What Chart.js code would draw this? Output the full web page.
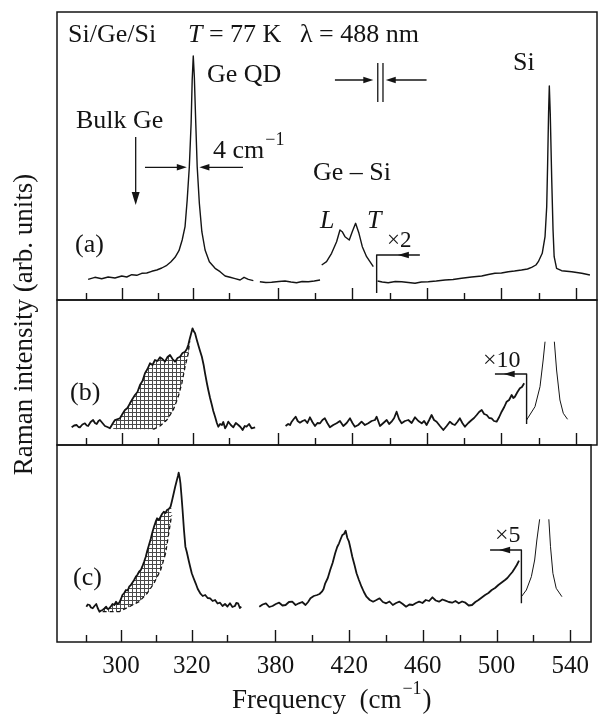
<!DOCTYPE html>
<html><head><meta charset="utf-8">
<script src="https://cdn.jsdelivr.net/npm/chart.js@4.4.0/dist/chart.umd.min.js"></script>
<style>
html,body{margin:0;padding:0;background:#fff;}
#wrap{position:relative;width:598px;height:714px;overflow:hidden;}
canvas{position:absolute;left:0;top:0;}
</style></head><body>
<div id="wrap">
<canvas id="ca" width="598" height="714"></canvas>
<canvas id="cb" width="598" height="714"></canvas>
<canvas id="cc" width="598" height="714"></canvas>
</div>
<script>
// ---------------- data (frequency in cm^-1, intensity in arb. units) ----------------
const TICK_VALUES = [290,300,310,320,330,380,400,420,440,460,480,500,520,540];
const TICK_LABELS = [300,320,380,420,460,500,540];
const X_LEFT_RANGE = [281.9, 338.1];   // left part of the broken frequency axis
const X_RIGHT_RANGE = [369.3, 551.3];  // right part of the broken frequency axis

// Panel (a)
const A_GE_QD = [[290.6,20.7],[292.5,22.7],[294.4,21.3],[296.2,23],[298.1,22],[300.0,24],[301.4,23],[302.8,25.3],[304.2,24.7],[305.6,26.7],[307.0,27],[308.4,28.7],[309.8,30],[311.2,32],[312.6,34.7],[313.7,38],[314.9,42.7],[316.0,49.3],[316.9,60],[317.7,73.3],[318.3,100],[318.9,133.3],[319.4,176.7],[319.7,220],[320.0,244],[320.3,223.3],[320.7,176.7],[321.1,133.3],[321.7,96.7],[322.4,68.3],[323.3,50],[324.5,38.3],[326.1,31.7],[327.5,28.3],[328.9,24],[330.3,22.7],[331.7,21.3],[333.1,20],[334.2,22.7],[335.4,20.7],[336.8,19.3]];
const A_BASE = [[370.3,18.3],[373.5,17.5],[376.6,17.7],[380.5,18.5],[383.8,19],[387,18],[390,17.3],[393,18.5],[396.3,18.3],[399.5,19],[402.6,20]];
const A_GESI = [[403.5,35],[406.1,38.3],[408.8,46.7],[411.5,58.3],[413.3,70],[414.5,68.3],[416.0,63.3],[418.3,60],[419.9,68.3],[421.7,76.7],[423.5,66.7],[425.3,53.3],[427.6,43.3],[431.2,33.3]];
const A_SI = [[433.5,19],[436,18],[439.2,17.3],[443,18.5],[446.4,18.3],[450,17.5],[453.6,16.7],[457,18],[460.7,18.3],[465,19],[469.7,20],[474,20.5],[478.6,21.7],[484,23],[489.4,24],[493,25.5],[496.5,26.7],[500,27],[503.7,28.3],[507,29],[510.8,30],[514,31],[516.2,32.7],[518.5,35],[519.8,38.3],[521.9,46.7],[523.4,63.3],[524.3,93.3],[524.8,136.7],[525.3,186.7],[525.7,214],[526.2,186.7],[527.0,120],[527.7,70],[528.3,43.3],[529.6,31.7],[532.3,29.3],[537.7,28.3],[543.1,26.7],[547.5,25]];
const A_MARK = [[433.0,7],[433.0,45],[456.2,45]];

// Panel (b)
const B_LEFT = [[286.0,17.7],[286.7,19.5],[287.4,20],[287.9,18],[288.3,17.7],[289.0,20.5],[289.7,21.7],[290.2,19.5],[290.6,19],[291.3,23],[292.0,25],[292.5,22],[293.0,21],[293.5,24],[293.9,25],[294.6,22],[295.3,19],[296.0,18],[296.7,16.7],[297.4,21],[298.1,25],[299.5,26.7],[300.2,31],[300.9,35],[301.6,37],[302.3,41.7],[303.0,46],[303.7,50],[304.4,53],[305.1,60],[305.8,64],[306.5,71.7],[307.2,76],[307.9,81.7],[308.6,80],[309.3,85],[310.0,84],[310.7,87.7],[311.4,86],[312.1,83.3],[312.8,88],[313.5,90],[314.2,86],[314.9,83.3],[315.6,87],[316.3,88.3],[317.0,92],[317.7,93.3],[318.2,96],[318.6,100],[319.0,106],[319.3,110],[319.8,116.7],[320.1,114],[320.5,111.7],[321.0,105],[321.4,100],[321.9,94],[322.4,88.3],[322.9,80],[323.3,71.7],[323.8,62],[324.2,55],[324.7,47],[325.2,40],[325.6,34],[326.1,28.3],[326.6,22],[327.0,18.3],[327.5,21],[328.0,20],[328.4,23],[328.9,16.7],[329.3,19],[329.8,23.3],[330.5,20],[331.2,17.7],[331.9,22],[332.6,20],[333.2,18],[333.8,15],[334.4,19],[334.9,18.3],[335.6,21],[336.3,16.7],[337.3,17.7]];
const B_SHADE_LOW = [[297.6,15.7],[308.8,15.7],[310.7,19],[312.6,25],[314.4,35],[315.8,48.3],[316.8,61.7],[317.7,78.3],[318.6,91.7],[319.0,104]];
const B_RIGHT = [[384.1,19],[385.5,21],[386.5,20],[387.4,23.3],[388.5,26],[389.5,28.3],[390.6,24],[391.8,22.3],[393.2,24],[394.5,25],[395.8,22],[397.2,27.7],[398.5,23],[399.9,19],[401.2,22],[402.6,21.7],[403.9,25],[405.2,26.7],[406.5,22],[407.9,17.7],[409.7,20],[411.5,21.7],[413.3,24],[415.1,19],[416.9,22],[418.7,26.7],[420.0,22],[421.3,18.3],[423.1,20],[424.9,23.3],[426.7,20],[428.5,21.7],[430.3,24],[432.1,25],[433.0,28.3],[434.8,19],[436.6,22],[438.4,25],[439.7,21],[441.0,23.3],[442.4,27],[443.7,33.3],[445.0,26],[446.4,21.7],[448.2,24],[450.0,25],[451.8,22],[453.6,27.7],[455.4,24],[457.2,21.7],[458.5,24],[459.8,20],[461.2,25],[462.5,30],[463.8,25],[465.2,23.3],[467.0,19],[468.8,15],[470.6,19],[472.3,23.3],[473.7,21],[475.0,20],[476.3,23],[477.7,26.7],[479.0,22],[480.4,18.3],[482.2,22],[484.0,25],[485.3,27],[486.7,30],[488.0,33],[489.4,35],[490.7,31],[492.1,30],[493.4,27],[494.7,26.7],[496.0,24],[497.4,23.3],[498.8,28],[500.1,33.3],[501.5,38],[502.8,43.3],[504.1,45],[505.5,50],[506.4,47],[507.2,48.3],[508.6,53],[509.9,56.7],[511.0,58],[512.2,61.7]];
const B_SI_UP = [[513.5,25],[518.0,38.3],[520.7,58.3],[522.4,85],[523.4,103.3]];
const B_SI_DOWN = [[528.4,103.3],[529.6,75],[531.4,45],[533.2,31.7],[535.5,25.7]];
const B_MARK = [[513.5,21],[513.5,71],[496.5,71]];

// Panel (c)
const C_LEFT = [[290.2,35.3],[290.6,37.5],[291.1,37],[291.5,34.5],[292.0,33.7],[292.5,36],[293.0,38],[293.4,34],[293.9,30.3],[294.4,31.5],[294.8,32],[295.3,33.5],[295.8,35.3],[296.2,33],[296.7,33.7],[297.2,36],[297.6,38],[298.1,37],[298.6,40.3],[299.0,38],[299.5,39.3],[300.0,43],[300.4,47],[300.9,49],[301.4,52],[301.9,51.5],[302.3,55.3],[302.8,57],[303.2,59.3],[303.7,62],[304.2,65.3],[304.6,67],[305.1,70.3],[305.6,72],[306.0,75.3],[306.5,80],[307.0,85.3],[307.4,91],[307.9,97],[308.4,103],[308.8,108.7],[309.3,115],[309.8,120.3],[310.2,123.7],[310.7,122],[311.2,125.3],[311.6,128],[312.1,130.3],[312.6,129],[313.0,132],[313.5,133],[314.0,135.3],[314.4,141],[314.9,148.7],[315.3,155],[315.8,162],[316.1,166],[316.3,169.3],[316.6,164],[316.8,158.7],[317.1,146],[317.4,132],[317.8,112],[318.2,95.3],[318.6,90],[319.1,82],[319.5,76],[320.0,68.7],[320.5,64],[321.1,58.7],[321.7,53],[322.4,48.7],[323.1,46],[323.8,47],[324.5,44],[325.2,43.7],[325.9,41],[326.6,42],[327.3,38.5],[328.0,39.3],[328.7,36],[329.4,38],[330.1,35.5],[330.8,38.7],[331.5,35],[332.2,36],[332.6,39],[333.1,38.7],[333.6,34],[334.0,35.3]];
const C_SHADE_LOW = [[294.8,30.3],[299.5,30.3],[302.3,35.3],[305.1,40.3],[307.4,48.7],[309.3,58.7],[311.2,72],[312.6,88.7],[313.5,108.7],[314.3,127]];
const C_RIGHT = [[371.2,35.3],[373.0,37.5],[374.8,38.7],[376.6,35],[378.4,36],[380.2,38],[382.0,39.3],[383.8,36.5],[385.5,37],[387.3,40],[389.1,40.3],[390.9,37],[392.7,38.7],[394.5,40],[396.3,37],[397.7,40],[399.0,43.7],[400.8,46],[402.6,47],[403.9,48],[405.2,50.3],[406.1,53],[407.0,58.7],[408.4,64],[409.7,72],[411.0,79],[412.4,88.7],[413.5,95],[414.5,98.7],[415.4,103],[416.3,107],[417.2,108],[418.1,111.3],[419.0,104],[419.9,100.3],[420.8,93],[421.7,85.3],[422.9,77],[424.0,68.7],[425.3,62],[426.7,55.3],[428.0,50],[429.4,45.3],[431.2,42],[433.0,40.3],[434.8,42],[436.5,43.7],[438.3,40],[440.1,38.7],[441.9,40.5],[443.7,37],[445.5,39],[447.3,40.3],[449.1,38],[450.9,35.3],[452.7,37.5],[454.5,37],[456.3,39],[458.0,40.3],[459.8,39],[461.6,42],[463.4,41],[465.2,44.7],[467.0,41.5],[468.8,40.3],[470.6,42.5],[472.3,41.3],[474.1,40],[475.9,39.3],[477.7,41],[479.5,38.7],[481.3,40.5],[483.1,39.3],[484.9,36.5],[486.7,37],[488.5,40],[490.2,42],[492.0,44.5],[493.8,47],[495.6,49],[497.4,52],[499.2,54],[501.0,57],[502.8,59.5],[504.6,62],[505.9,64],[507.2,67],[508.6,70],[509.9,73.7],[511.0,77],[512.2,81.3]];
const C_SI_UP = [[513.5,45.3],[516.2,52],[518.9,65.3],[520.7,82],[521.9,102],[523.4,122.7]];
const C_SI_DOWN = [[528.4,122.7],[529.3,95.3],[530.6,68.7],[532.4,53.7],[535.5,45.3]];
const C_MARK = [[513.5,38.7],[513.5,92],[496.5,92]];

// ---------------- broken linear scale ----------------
class BrokenLinearScale extends Chart.LinearScale {
  _split() { return 201 / 540; }
  getPixelForValue(value) {
    if (value === null || value === undefined || isNaN(value)) return NaN;
    const s = this._split();
    const [a0, a1] = X_LEFT_RANGE, [b0, b1] = X_RIGHT_RANGE;
    let dec;
    if (value <= a1) dec = (value - a0) / (a1 - a0) * s;
    else if (value >= b0) dec = s + (value - b0) / (b1 - b0) * (1 - s);
    else dec = s;
    return this.left + dec * this.width;
  }
  getValueForPixel(pixel) {
    const s = this._split();
    const dec = (pixel - this.left) / this.width;
    const [a0, a1] = X_LEFT_RANGE, [b0, b1] = X_RIGHT_RANGE;
    if (dec <= s) return a0 + dec / s * (a1 - a0);
    return b0 + (dec - s) / (1 - s) * (b1 - b0);
  }
}
BrokenLinearScale.id = 'brokenLinear';
BrokenLinearScale.defaults = Chart.LinearScale.defaults;
Chart.register(BrokenLinearScale);

// ---------------- styling helpers ----------------
const FONT = 'Liberation Serif';
const INK = '#141414';
Chart.defaults.font.family = FONT;
Chart.defaults.color = INK;

const TILE = (() => {
  const c = document.createElement('canvas'); c.width = 4; c.height = 4;
  const g = c.getContext('2d');
  g.fillStyle = '#4a4a4a';
  g.fillRect(0, 0, 4, 1); g.fillRect(0, 0, 1, 4);
  return c;
})();

function series(data, width, extra) {
  return Object.assign({
    data: data.map(([x, y]) => ({x, y})),
    borderColor: INK, borderWidth: width, pointRadius: 0, tension: 0, fill: false,
    borderJoinStyle: 'round', borderCapStyle: 'butt'
  }, extra || {});
}
function shade(data, hideFirst) {
  return series(data, 1.3, {
    borderDash: [4, 3],
    fill: {target: 0},
    backgroundColor: c => c.chart.ctx.createPattern(TILE, 'repeat'),
    segment: hideFirst ? {borderColor: c => c.p0DataIndex === 0 ? 'rgba(0,0,0,0)' : INK} : undefined
  });
}

function text(ctx, s, x, y, size, italic) {
  ctx.font = (italic ? 'italic ' : '') + size + 'px "' + FONT + '"';
  ctx.fillStyle = INK; ctx.textAlign = 'left'; ctx.textBaseline = 'alphabetic';
  ctx.fillText(s, x, y);
  return ctx.measureText(s).width;
}
function seg(ctx, x1, y1, x2, y2, w) {
  ctx.beginPath(); ctx.lineWidth = w || 1.3; ctx.strokeStyle = INK;
  ctx.moveTo(x1, y1); ctx.lineTo(x2, y2); ctx.stroke();
}
function head(ctx, x, y, dir, len, half) {
  len = len || 10; half = half || 3.2;
  ctx.beginPath(); ctx.fillStyle = INK;
  ctx.moveTo(x, y);
  if (dir === 'left') { ctx.lineTo(x + len, y - half); ctx.lineTo(x + len, y + half); }
  if (dir === 'right') { ctx.lineTo(x - len, y - half); ctx.lineTo(x - len, y + half); }
  if (dir === 'down') { ctx.lineTo(x - half, y - len); ctx.lineTo(x + half, y - len); }
  ctx.closePath(); ctx.fill();
}

function drawFrame(chart) {
  const {ctx, chartArea: a} = chart;
  const xs = chart.scales.x;
  ctx.save();
  ctx.strokeStyle = INK; ctx.lineWidth = 1.5;
  ctx.strokeRect(a.left, a.top, a.right - a.left, a.bottom - a.top);
  TICK_VALUES.forEach(v => {
    const p = Math.round(xs.getPixelForValue(v)) + 0.5;
    const len = TICK_LABELS.includes(v) ? 12 : 7;
    seg(ctx, p, a.bottom, p, a.bottom - len, 1.4);
  });
  ctx.restore();
}

function makeChart(id, padTop, padBottom, yMax, datasets, annotate, withAxis) {
  const x = {
    type: 'brokenLinear', min: X_LEFT_RANGE[0], max: X_RIGHT_RANGE[1], display: !!withAxis,
    position: 'bottom',
    grid: {display: false, drawTicks: false}, border: {display: false},
    ticks: {autoSkip: false, maxRotation: 0, minRotation: 0, padding: 9, color: INK,
      font: {family: FONT, size: 25},
      callback: v => TICK_LABELS.includes(v) ? String(v) : ''},
    afterBuildTicks: s => { s.ticks = TICK_VALUES.map(v => ({value: v})); }
  };
  if (withAxis) x.afterFit = s => { s.height = 72; };
  return new Chart(document.getElementById(id), {
    type: 'line',
    data: {datasets},
    options: {
      responsive: false, animation: false, events: [],
      layout: {padding: {left: 57, right: 1, top: padTop, bottom: padBottom}},
      plugins: {legend: {display: false}, tooltip: {enabled: false}},
      scales: {x, y: {type: 'linear', min: 0, max: yMax, display: false}}
    },
    plugins: [{id: 'deco' + id, afterDraw(chart) { drawFrame(chart); chart.ctx.save(); annotate(chart); chart.ctx.restore(); }}]
  });
}

// ---------------- panel (a) ----------------
makeChart('ca', 12, 414, 288, [
  series(A_GE_QD, 1.4), series(A_BASE, 1.4), series(A_GESI, 1.4), series(A_SI, 1.4), series(A_MARK, 1.4)
], chart => {
  const ctx = chart.ctx, X = v => chart.scales.x.getPixelForValue(v), Y = v => chart.scales.y.getPixelForValue(v);
  text(ctx, 'Si/Ge/Si', 68, 42, 26);
  let p = 188; p += text(ctx, 'T', p, 42, 26, true); text(ctx, ' = 77 K', p, 42, 26);
  text(ctx, 'λ = 488 nm', 300, 42, 26);
  text(ctx, 'Ge QD', 207, 82, 26);
  text(ctx, 'Si', 513, 70, 26);
  text(ctx, 'Bulk Ge', 76, 128, 26);
  p = 213; p += text(ctx, '4 cm', p, 158, 26); text(ctx, '−1', p + 1, 145, 18);
  text(ctx, '(a)', 75, 252, 26);
  text(ctx, 'Ge – Si', 313, 180, 26);
  text(ctx, 'L', 320, 228, 26, true);
  text(ctx, 'T', 367, 228, 26, true);
  text(ctx, '×2', 387, 247, 23);
  // bulk Ge arrow
  seg(ctx, X(303.9), Y(163), X(303.9), Y(100));
  head(ctx, X(303.9), Y(95), 'down', 13, 4);
  // FWHM arrows
  seg(ctx, X(306.5), Y(132.7), X(318.2) - 6, Y(132.7));
  head(ctx, X(318.2), Y(132.7), 'right', 10, 3.2);
  seg(ctx, X(333.9), Y(132.7), X(321.7) + 6, Y(132.7));
  head(ctx, X(321.7), Y(132.7), 'left', 10, 3.2);
  // spectral resolution marker
  seg(ctx, X(410.6), Y(220), X(431.2) - 6, Y(220));
  head(ctx, X(431.2), Y(220), 'right', 10, 3.2);
  seg(ctx, X(433.6), Y(237), X(433.6), Y(198));
  seg(ctx, X(436.4), Y(237), X(436.4), Y(198));
  seg(ctx, X(459.8), Y(220), X(437.9) + 6, Y(220));
  head(ctx, X(437.9), Y(220), 'left', 10, 3.2);
  // x2 arrow head
  head(ctx, X(444.4), Y(45), 'left', 11, 3.2);
}, false);

// ---------------- panel (b) ----------------
makeChart('cb', 300, 269, 145, [
  series(B_LEFT, 1.8), shade(B_SHADE_LOW, true), series(B_RIGHT, 1.8),
  series(B_SI_UP, 1.0), series(B_SI_DOWN, 1.0), series(B_MARK, 1.4)
], chart => {
  const ctx = chart.ctx, X = v => chart.scales.x.getPixelForValue(v), Y = v => chart.scales.y.getPixelForValue(v);
  text(ctx, '(b)', 70, 400, 26);
  text(ctx, '×10', 483, 367, 24);
  head(ctx, X(501.2), Y(71), 'left', 11, 3.2);
}, false);

// ---------------- panel (c) ----------------
makeChart('cc', 445, 0, 197, [
  series(C_LEFT, 1.8), shade(C_SHADE_LOW, false), series(C_RIGHT, 1.8),
  series(C_SI_UP, 1.0), series(C_SI_DOWN, 1.0), series(C_MARK, 1.4)
], chart => {
  const ctx = chart.ctx, X = v => chart.scales.x.getPixelForValue(v), Y = v => chart.scales.y.getPixelForValue(v);
  text(ctx, '(c)', 73, 585, 26);
  text(ctx, '×5', 495, 542, 24);
  head(ctx, X(501.4), Y(92), 'left', 11, 3.2);
  // axis titles
  let p = 232; p += text(ctx, 'Frequency  (cm', p, 708, 27);
  p += text(ctx, '−1', p + 1, 694, 18) + 1; text(ctx, ')', p + 1, 708, 27);
  ctx.save();
  ctx.translate(32, 324.5); ctx.rotate(-Math.PI / 2);
  ctx.font = '27px "' + FONT + '"'; ctx.fillStyle = INK; ctx.textAlign = 'center'; ctx.textBaseline = 'alphabetic';
  ctx.fillText('Raman intensity (arb. units)', 0, 0);
  ctx.restore();
}, true);
</script>
</body></html>
